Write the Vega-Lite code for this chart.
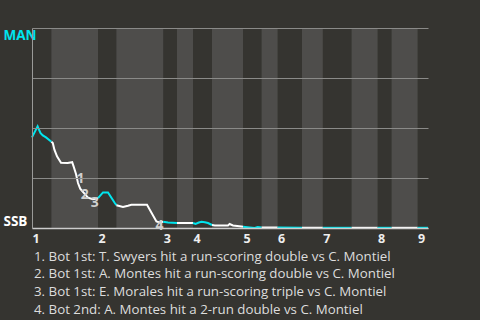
{
  "$schema": "https://vega.github.io/schema/vega-lite/v6.json",
  "width": 396,
  "height": 200,
  "autosize": "none",
  "padding": {"left": 32, "top": 28, "right": 52, "bottom": 92},
  "background": "#353430",
  "config": {
    "view": {"stroke": null},
    "font": "Open Sans"
  },
  "title": {
    "text": [
      "1. Bot 1st: T. Swyers hit a run-scoring double vs C. Montiel",
      "2. Bot 1st: A. Montes hit a run-scoring double vs C. Montiel",
      "3. Bot 1st: E. Morales hit a run-scoring triple vs C. Montiel",
      "4. Bot 2nd: A. Montes hit a 2-run double vs C. Montiel"
    ],
    "orient": "bottom",
    "anchor": "start",
    "font": "Open Sans",
    "fontSize": 13.3,
    "fontWeight": "normal",
    "color": "#dddddd",
    "lineHeight": 17.7,
    "offset": 5,
    "dx": 31
  },
  "datasets": {
    "bands": [
      {"start": 4.85, "end": 16.5},
      {"start": 21.1, "end": 32.8},
      {"start": 36.25, "end": 40.25},
      {"start": 45, "end": 52.75},
      {"start": 57.4, "end": 61.4},
      {"start": 67.5, "end": 72.7},
      {"start": 79.9, "end": 86.4},
      {"start": 89.9, "end": 96.4}
    ],
    "wp": [
      {"seg": 1, "side": "MAN", "x": 0, "wp": 45.3},
      {"seg": 1, "side": "MAN", "x": 1.4, "wp": 50.8},
      {"seg": 1, "side": "MAN", "x": 2.1, "wp": 47.5},
      {"seg": 1, "side": "MAN", "x": 2.7, "wp": 46.3},
      {"seg": 1, "side": "MAN", "x": 3.5, "wp": 45.3},
      {"seg": 1, "side": "MAN", "x": 4.85, "wp": 43.15},
      {"seg": 2, "side": "SSB", "x": 4.85, "wp": 43.15},
      {"seg": 2, "side": "SSB", "x": 5.2, "wp": 42.5},
      {"seg": 2, "side": "SSB", "x": 5.6, "wp": 39.15},
      {"seg": 2, "side": "SSB", "x": 6.25, "wp": 35.8},
      {"seg": 2, "side": "SSB", "x": 7.25, "wp": 32.65},
      {"seg": 2, "side": "SSB", "x": 8.9, "wp": 32.5},
      {"seg": 2, "side": "SSB", "x": 10.05, "wp": 32.9},
      {"seg": 2, "side": "SSB", "x": 10.4, "wp": 30.8},
      {"seg": 2, "side": "SSB", "x": 11, "wp": 27},
      {"seg": 2, "side": "SSB", "x": 11.5, "wp": 22.5},
      {"seg": 2, "side": "SSB", "x": 12.05, "wp": 19.65},
      {"seg": 2, "side": "SSB", "x": 12.9, "wp": 17.65},
      {"seg": 2, "side": "SSB", "x": 14, "wp": 15.15},
      {"seg": 2, "side": "SSB", "x": 15.2, "wp": 14.4},
      {"seg": 2, "side": "SSB", "x": 16.5, "wp": 14.9},
      {"seg": 3, "side": "MAN", "x": 16.5, "wp": 14.9},
      {"seg": 3, "side": "MAN", "x": 17.75, "wp": 17.8},
      {"seg": 3, "side": "MAN", "x": 19, "wp": 17.8},
      {"seg": 3, "side": "MAN", "x": 20.7, "wp": 12.5},
      {"seg": 3, "side": "MAN", "x": 21.1, "wp": 11.4},
      {"seg": 4, "side": "SSB", "x": 21.1, "wp": 11.4},
      {"seg": 4, "side": "SSB", "x": 22.75, "wp": 10.5},
      {"seg": 4, "side": "SSB", "x": 24, "wp": 11.15},
      {"seg": 4, "side": "SSB", "x": 24.85, "wp": 11.65},
      {"seg": 4, "side": "SSB", "x": 28.75, "wp": 11.65},
      {"seg": 4, "side": "SSB", "x": 31.1, "wp": 3.3},
      {"seg": 4, "side": "SSB", "x": 31.9, "wp": 2.8},
      {"seg": 4, "side": "SSB", "x": 32.8, "wp": 3.15},
      {"seg": 5, "side": "MAN", "x": 32.8, "wp": 3.15},
      {"seg": 5, "side": "MAN", "x": 34, "wp": 2.8},
      {"seg": 5, "side": "MAN", "x": 36.25, "wp": 2.5},
      {"seg": 6, "side": "SSB", "x": 36.25, "wp": 2.5},
      {"seg": 6, "side": "SSB", "x": 40.25, "wp": 2.5},
      {"seg": 7, "side": "MAN", "x": 40.25, "wp": 2.5},
      {"seg": 7, "side": "MAN", "x": 40.9, "wp": 2.05},
      {"seg": 7, "side": "MAN", "x": 41.7, "wp": 2.75},
      {"seg": 7, "side": "MAN", "x": 42.4, "wp": 3.15},
      {"seg": 7, "side": "MAN", "x": 43.2, "wp": 2.9},
      {"seg": 7, "side": "MAN", "x": 44, "wp": 2.5},
      {"seg": 7, "side": "MAN", "x": 45, "wp": 1.5},
      {"seg": 8, "side": "SSB", "x": 45, "wp": 1.5},
      {"seg": 8, "side": "SSB", "x": 45.7, "wp": 1.3},
      {"seg": 8, "side": "SSB", "x": 49, "wp": 1.3},
      {"seg": 8, "side": "SSB", "x": 49.4, "wp": 2},
      {"seg": 8, "side": "SSB", "x": 50.25, "wp": 1.3},
      {"seg": 8, "side": "SSB", "x": 52.35, "wp": 0.8},
      {"seg": 8, "side": "SSB", "x": 52.75, "wp": 0.65},
      {"seg": 9, "side": "MAN", "x": 52.75, "wp": 0.65},
      {"seg": 9, "side": "MAN", "x": 54.4, "wp": 0.3},
      {"seg": 9, "side": "MAN", "x": 55.7, "wp": 0},
      {"seg": 9, "side": "MAN", "x": 56.4, "wp": 0.5},
      {"seg": 9, "side": "MAN", "x": 57.4, "wp": 0.25},
      {"seg": 10, "side": "SSB", "x": 57.4, "wp": 0.25},
      {"seg": 10, "side": "SSB", "x": 61.4, "wp": 0.2},
      {"seg": 11, "side": "MAN", "x": 61.4, "wp": 0.2},
      {"seg": 11, "side": "MAN", "x": 67.5, "wp": 0.15},
      {"seg": 12, "side": "SSB", "x": 67.5, "wp": 0.15},
      {"seg": 12, "side": "SSB", "x": 72.7, "wp": 0.1},
      {"seg": 13, "side": "MAN", "x": 72.7, "wp": 0.1},
      {"seg": 13, "side": "MAN", "x": 79.9, "wp": 0.1},
      {"seg": 14, "side": "SSB", "x": 79.9, "wp": 0.1},
      {"seg": 14, "side": "SSB", "x": 86.4, "wp": 0.1},
      {"seg": 15, "side": "MAN", "x": 86.4, "wp": 0.1},
      {"seg": 15, "side": "MAN", "x": 89.9, "wp": 0.1},
      {"seg": 16, "side": "SSB", "x": 89.9, "wp": 0.1},
      {"seg": 16, "side": "SSB", "x": 96.4, "wp": 0.1},
      {"seg": 17, "side": "MAN", "x": 96.4, "wp": 0.1},
      {"seg": 17, "side": "MAN", "x": 99, "wp": 0.1}
    ],
    "events": [
      {"n": "1", "x": 12.1, "wp": 24.5},
      {"n": "2", "x": 13.2, "wp": 16.6},
      {"n": "3", "x": 15.7, "wp": 12.6},
      {"n": "4", "x": 31.9, "wp": 1.1}
    ]
  },
  "layer": [
    {
      "data": {"name": "bands"},
      "mark": {"type": "rect", "color": "#4e4d4b"},
      "encoding": {
        "x": {"field": "start", "type": "quantitative", "scale": {"domain": [0, 99], "nice": false, "zero": false},
          "axis": {
            "values": [0, 16.5, 32.8, 40.25, 52.75, 61.4, 72.7, 86.4, 96.4],
            "labelExpr": "indexof([0, 16.5, 32.8, 40.25, 52.75, 61.4, 72.7, 86.4, 96.4], datum.value) + 1",
            "title": null,
            "grid": false,
            "ticks": false,
            "domainColor": "#cccccc",
            "domainWidth": 1.5,
            "labelAlign": "left",
            "labelBaseline": "top",
            "labelPadding": 4,
            "labelFont": "Open Sans",
            "labelFontSize": 12.5,
            "labelFontWeight": "bold",
            "labelColor": "#eeeeee",
            "labelFlush": false,
            "labelOverlap": false,
            "labelBound": false,
            "zindex": 1
          }},
        "x2": {"field": "end"}
      }
    },
    {
      "data": {"name": "wp"},
      "mark": {"type": "line", "strokeWidth": 2, "interpolate": "linear"},
      "encoding": {
        "x": {"field": "x", "type": "quantitative"},
        "y": {"field": "wp", "type": "quantitative", "scale": {"domain": [0, 100], "nice": false, "zero": false},
          "axis": {
            "values": [0, 25, 50, 75, 100],
            "labelExpr": "datum.value == 100 ? 'MAN' : datum.value == 0 ? 'SSB' : ''",
            "title": null,
            "grid": true,
            "gridColor": "#8a8a88",
            "gridWidth": 1,
            "ticks": false,
            "domainColor": "#9a9a98",
            "labelFlush": true,
            "labelAlign": "left",
            "labelPadding": 29,
            "labelFont": "Open Sans",
            "labelFontSize": 13.5,
            "labelFontWeight": "bold",
            "labelColor": {"condition": {"test": "datum.value == 100", "value": "#00e5ee"}, "value": "#ffffff"},
            "labelOverlap": false,
            "labelBound": false,
            "zindex": 1
          }},
        "color": {"field": "side", "type": "nominal", "scale": {"domain": ["MAN", "SSB"], "range": ["#00e5ee", "#ffffff"]}, "legend": null},
        "detail": {"field": "seg", "type": "nominal"}
      }
    },
    {
      "data": {"name": "events"},
      "mark": {"type": "text", "font": "Open Sans", "fontSize": 14, "fontWeight": "bold", "color": "#cfcfcf", "align": "center", "baseline": "middle"},
      "encoding": {
        "x": {"field": "x", "type": "quantitative"},
        "y": {"field": "wp", "type": "quantitative"},
        "text": {"field": "n"}
      }
    }
  ]
}
